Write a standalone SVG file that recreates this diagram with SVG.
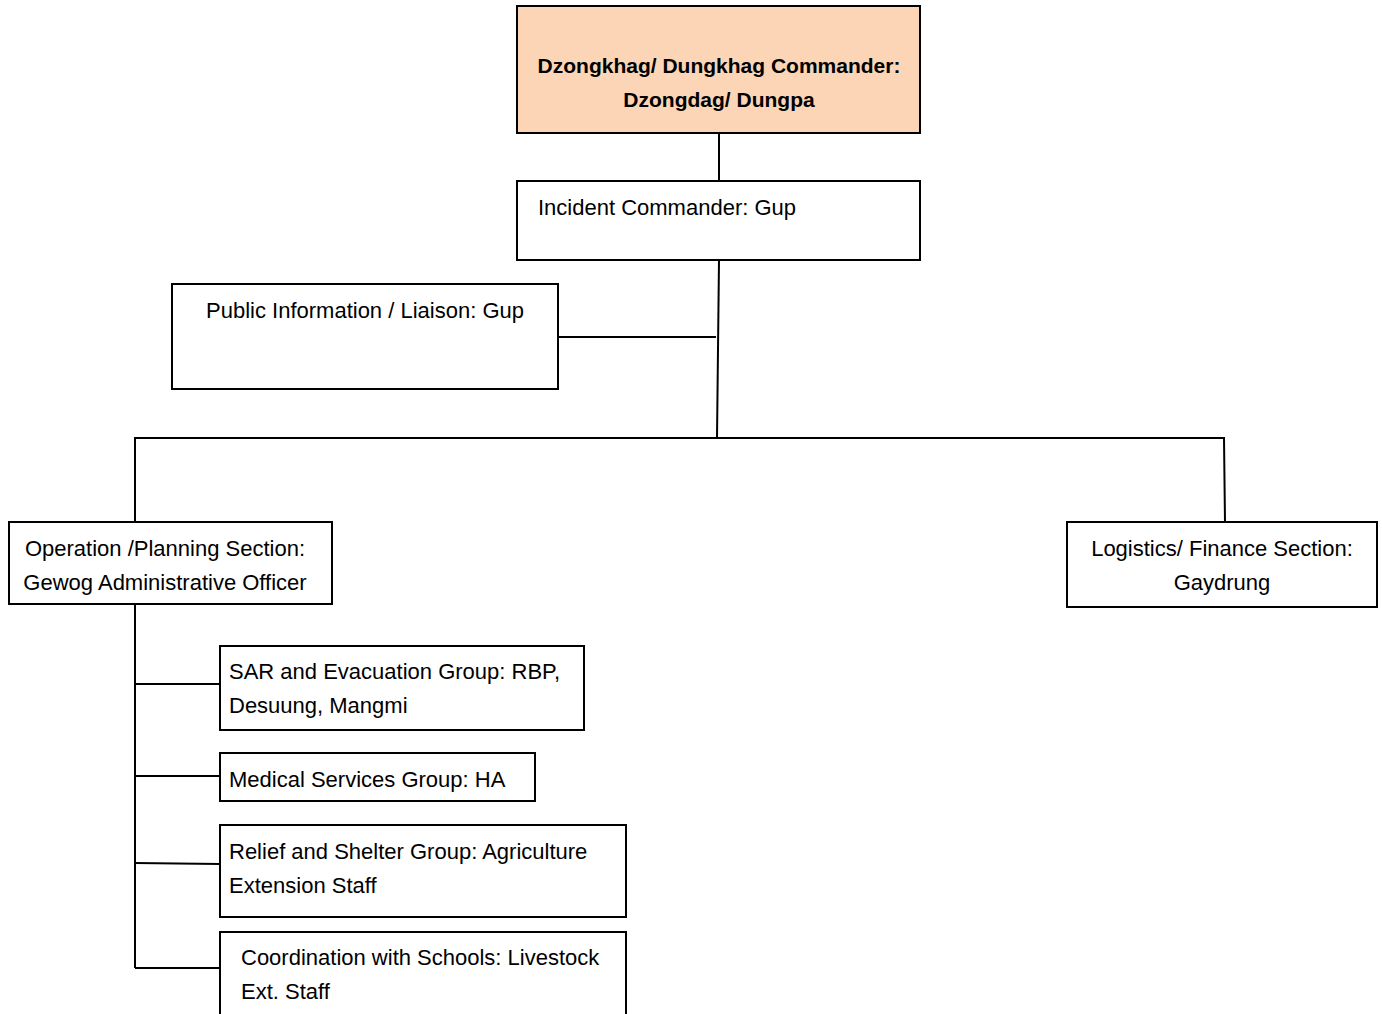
<svg xmlns="http://www.w3.org/2000/svg" width="1382" height="1014" viewBox="0 0 1382 1014">
<style>
.box{fill:#fff;stroke:#000;stroke-width:2}
.top{fill:#fbd5b5;stroke:#000;stroke-width:2}
.t{font-family:"Liberation Sans",Arial,sans-serif;font-size:22px;fill:#000}
.b{font-weight:bold;font-size:21px}
.c{text-anchor:middle}
.ln{stroke:#000;stroke-width:2;fill:none}
</style>
<rect width="1382" height="1014" fill="#fff"/>
<g id="connectors">
<line class="ln" x1="719" y1="133" x2="719" y2="181"/>
<line class="ln" x1="719" y1="260" x2="717" y2="438"/>
<line class="ln" x1="558" y1="337" x2="716" y2="337"/>
<polyline class="ln" points="135,522 135,438 1224,438 1225,522"/>
<line class="ln" x1="135" y1="604" x2="135" y2="968"/>
<line class="ln" x1="135" y1="684" x2="220" y2="684"/>
<line class="ln" x1="135" y1="776" x2="220" y2="776"/>
<line class="ln" x1="135" y1="863" x2="220" y2="864"/>
<line class="ln" x1="135" y1="968" x2="220" y2="968"/>
</g>
<g id="dzongkhag">
<rect class="top" x="517" y="6" width="403" height="127"/>
<text class="t b c" x="719" y="73">Dzongkhag/ Dungkhag Commander:</text>
<text class="t b c" x="719" y="107">Dzongdag/ Dungpa</text>
</g>
<g id="incident">
<rect class="box" x="517" y="181" width="403" height="79"/>
<text class="t" x="538" y="215">Incident Commander: Gup</text>
</g>
<g id="public">
<rect class="box" x="172" y="284" width="386" height="105"/>
<text class="t c" x="365" y="318">Public Information / Liaison: Gup</text>
</g>
<g id="operation">
<rect class="box" x="9" y="522" width="323" height="82"/>
<text class="t c" x="165" y="556">Operation /Planning Section:</text>
<text class="t c" x="165" y="590">Gewog Administrative Officer</text>
</g>
<g id="logistics">
<rect class="box" x="1067" y="522" width="310" height="85"/>
<text class="t c" x="1222" y="556">Logistics/ Finance Section:</text>
<text class="t c" x="1222" y="590">Gaydrung</text>
</g>
<g id="sar">
<rect class="box" x="220" y="646" width="364" height="84"/>
<text class="t" x="229" y="679">SAR and Evacuation Group: RBP,</text>
<text class="t" x="229" y="713">Desuung, Mangmi</text>
</g>
<g id="medical">
<rect class="box" x="220" y="753" width="315" height="48"/>
<text class="t" x="229" y="787">Medical Services Group: HA</text>
</g>
<g id="relief">
<rect class="box" x="220" y="825" width="406" height="92"/>
<text class="t" x="229" y="859">Relief and Shelter Group: Agriculture</text>
<text class="t" x="229" y="893">Extension Staff</text>
</g>
<g id="coordination">
<rect class="box" x="220" y="932" width="406" height="90"/>
<text class="t" x="241" y="965">Coordination with Schools: Livestock</text>
<text class="t" x="241" y="999">Ext. Staff</text>
</g>
</svg>
